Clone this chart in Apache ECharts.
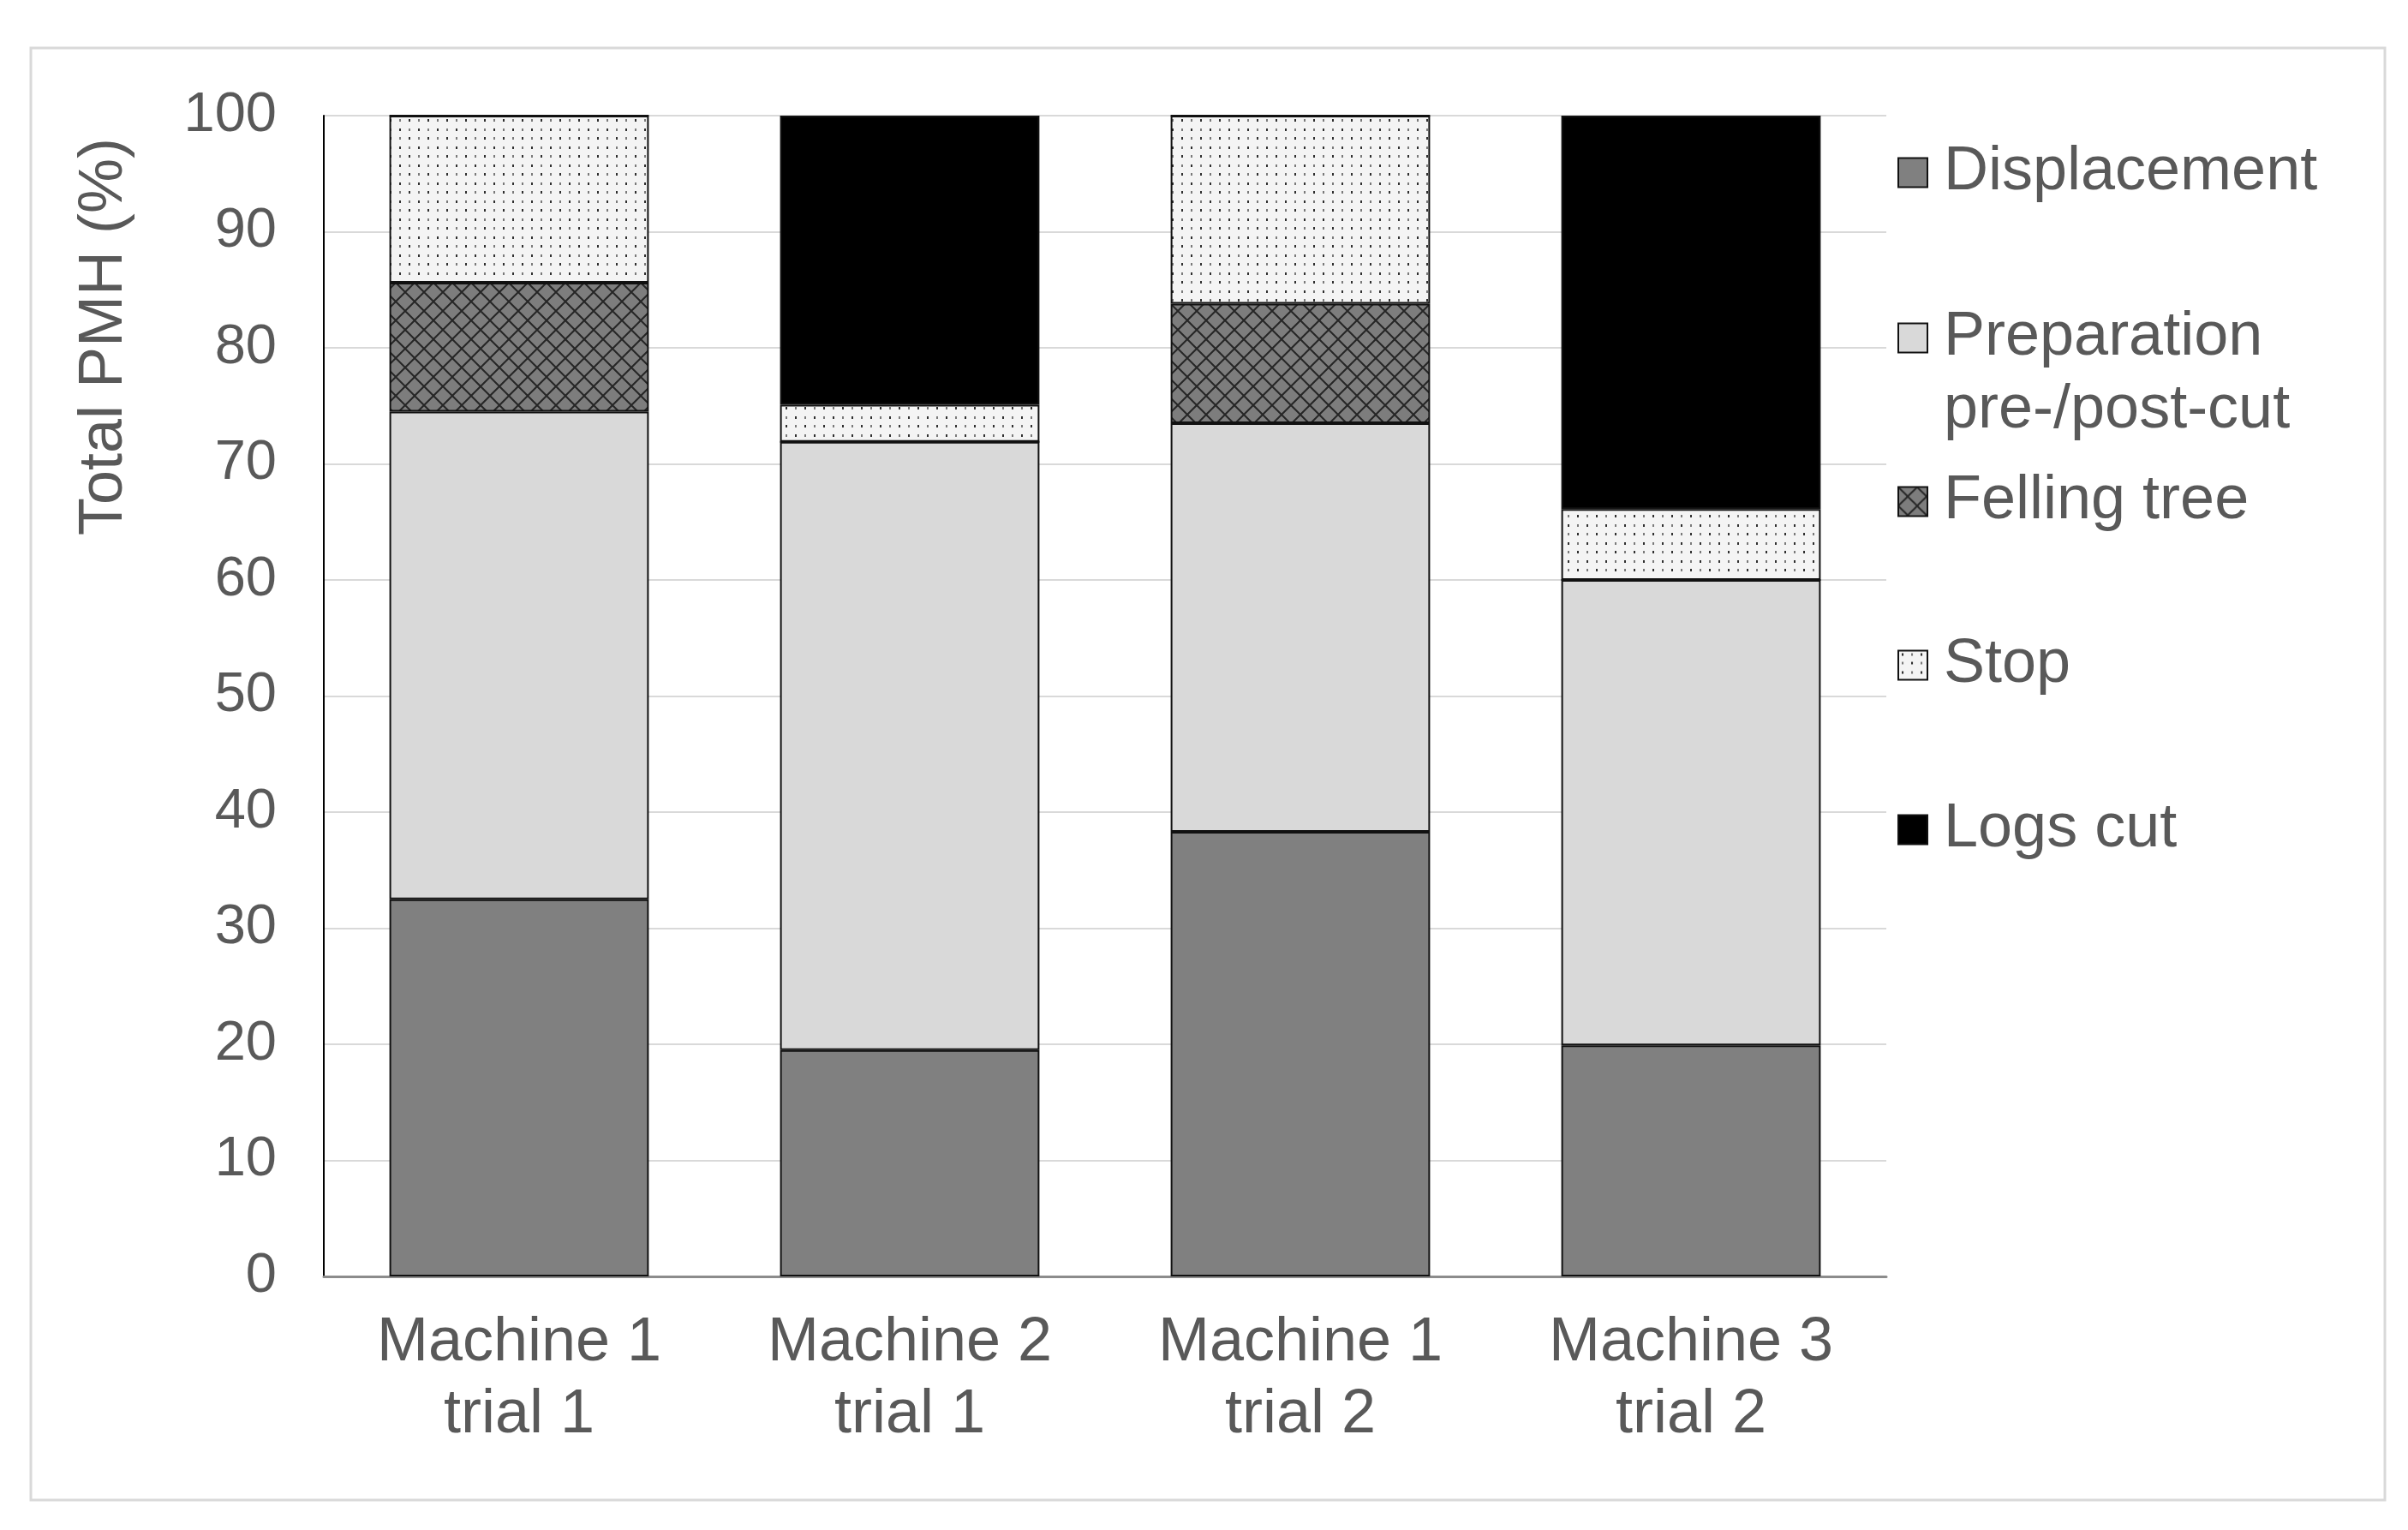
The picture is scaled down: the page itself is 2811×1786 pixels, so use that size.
<!DOCTYPE html>
<html>
<head>
<meta charset="utf-8">
<script src="https://cdn.jsdelivr.net/npm/echarts@6/dist/echarts.min.js"></script>
<style>
  html, body { margin: 0; padding: 0; background: #ffffff; }
  #chart { width: 2811px; height: 1786px; }
</style>
</head>
<body>
<div id="chart"></div>
<script>
// ---- data ----
const categories = ['Machine 1\ntrial 1', 'Machine 2\ntrial 1', 'Machine 1\ntrial 2', 'Machine 3\ntrial 2'];
const seriesNames = ['Displacement', 'Preparation pre-/post-cut', 'Felling tree', 'Stop', 'Logs cut'];
const displacement = [32.5, 19.5, 38.3, 19.9];
const preparation = [42.0, 52.4, 35.2, 40.1];
const fellingTree = [11.1, 0, 10.3, 0];
const stopTime = [14.4, 3.2, 16.2, 6.1];
const logsCut = [0, 24.9, 0, 33.9];
const yAxisTitle = 'Total PMH (%)';
const yMin = 0, yMax = 100, yStep = 10;

// ---- patterns ----
function crossPattern() {
  const c = document.createElement('canvas');
  c.width = 22; c.height = 22;
  const g = c.getContext('2d');
  g.fillStyle = '#7d7d7d';
  g.fillRect(0, 0, 22, 22);
  g.strokeStyle = '#262626';
  g.lineWidth = 2;
  g.beginPath();
  g.moveTo(-2, -2); g.lineTo(24, 24);
  g.moveTo(24, -2); g.lineTo(-2, 24);
  g.stroke();
  return c;
}
function dotPattern() {
  const c = document.createElement('canvas');
  c.width = 22; c.height = 21;
  const g = c.getContext('2d');
  g.fillStyle = '#f4f4f4';
  g.fillRect(0, 0, 22, 21);
  g.fillStyle = '#2f2f2f';
  g.fillRect(4, 3, 2, 3);
  g.fillRect(15, 13, 2, 3);
  g.fillStyle = '#7a7a7a';
  g.fillRect(15, 3, 2, 3);
  g.fillRect(4, 13, 2, 3);
  return c;
}

const FONT = '"Liberation Sans", Arial, sans-serif';
const TXT = '#595959';

const colors = [
  '#808080',
  '#d9d9d9',
  { image: crossPattern(), repeat: 'repeat' },
  { image: dotPattern(), repeat: 'repeat' },
  '#000000'
];
const values = [displacement, preparation, fellingTree, stopTime, logsCut];

const legendTops = [159, 267, 543, 734, 926];

const chart = echarts.init(document.getElementById('chart'), null, { renderer: 'canvas' });

const option = {
  backgroundColor: '#ffffff',
  animation: false,
  grid: { left: 378, right: 609, top: 135, bottom: 296, containLabel: false },
  xAxis: {
    type: 'category',
    data: categories,
    axisLine: { show: true, lineStyle: { color: '#8c8c8c', width: 3 } },
    axisTick: { show: false },
    axisLabel: {
      color: TXT, fontSize: 72, fontFamily: FONT, lineHeight: 84, margin: 36, interval: 0
    }
  },
  yAxis: {
    type: 'value',
    min: yMin, max: yMax, interval: yStep,
    axisLine: { show: true, lineStyle: { color: '#000000', width: 2 } },
    axisTick: { show: false },
    axisLabel: { color: TXT, fontSize: 65, fontFamily: FONT, margin: 55 },
    splitLine: { show: true, lineStyle: { color: '#d9d9d9', width: 2 } }
  },
  legend: seriesNames.map((n, i) => ({
    data: [n],
    left: 2215,
    top: legendTops[i],
    orient: 'vertical',
    padding: 0,
    icon: 'rect',
    itemWidth: 34,
    itemHeight: 34,
    selectedMode: false,
    formatter: i === 1 ? '\nPreparation\npre-/post-cut' : '{name}',
    textStyle: {
      color: TXT, fontSize: 72, fontFamily: FONT, lineHeight: 85,
      padding: [0, 0, 0, 14]
    }
  })),
  series: seriesNames.map((n, i) => ({
    name: n,
    type: 'bar',
    stack: 'total',
    barCategoryGap: '33.6%',
    data: values[i],
    itemStyle: { color: colors[i], borderColor: '#111111', borderWidth: 2 },
    emphasis: { disabled: true }
  })),
  graphic: [
    {
      type: 'rect', z: -1,
      shape: { x: 36, y: 56, width: 2748, height: 1695 },
      style: { fill: 'none', stroke: '#d9d9d9', lineWidth: 3 }
    },
    {
      type: 'text',
      x: 122, y: 393,
      rotation: Math.PI / 2,
      style: {
        text: yAxisTitle, fill: TXT, fontSize: 72, fontFamily: FONT,
        align: 'center', verticalAlign: 'middle'
      }
    }
  ]
};
chart.setOption(option);
</script>
</body>
</html>
